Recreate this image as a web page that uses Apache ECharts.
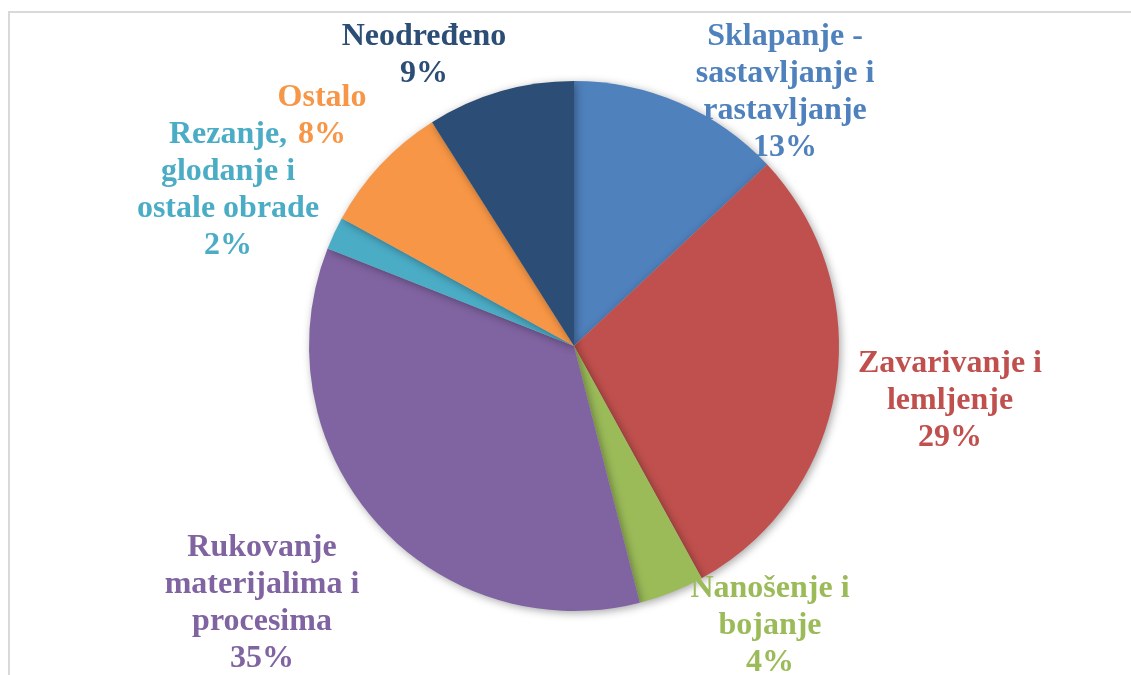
<!DOCTYPE html>
<html>
<head>
<meta charset="utf-8">
<script src="https://cdn.jsdelivr.net/npm/echarts@6/dist/echarts.min.js"></script>
<style>
  html, body { margin: 0; padding: 0; background: #fff; }
  #main { width: 1131px; height: 675px; position: relative; }
  #frame {
    position: absolute; left: 8px; top: 11px; right: -10px; bottom: -10px;
    border-left: 2px solid #d9d9d9; border-top: 2px solid #d9d9d9;
    pointer-events: none;
  }
</style>
</head>
<body>
<div id="main"></div>
<div id="frame"></div>
<script>
var names = [
  "Sklapanje -\nsastavljanje i\nrastavljanje",
  "Zavarivanje i\nlemljenje",
  "Nanošenje i\nbojanje",
  "Rukovanje\nmaterijalima i\nprocesima",
  "Rezanje,\nglodanje i\nostale obrade",
  "Ostalo",
  "Neodređeno"
];
var values = [13, 29, 4, 35, 2, 8, 9];
var colors = ["#4f81bd", "#c0504d", "#9bbb59", "#8064a2", "#4bacc6", "#f79646", "#2c4d75"];

// label block centres
var labelPos = [
  [785, 92],
  [950, 401],
  [770, 626],
  [262, 603],
  [228, 190],
  [322, 116],
  [424, 55]
];

var chartDom = document.getElementById("main");
var myChart = echarts.init(chartDom);

var data = names.map(function (n, i) {
  return { name: n, value: values[i], itemStyle: { color: colors[i] } };
});

var option = {
  animation: false,
  series: [
    {
      type: "pie",
      center: [574, 346],
      radius: 265,
      startAngle: 90,
      clockwise: true,
      data: data,
      itemStyle: {
        borderWidth: 0,
        shadowBlur: 8,
        shadowOffsetX: 2,
        shadowOffsetY: 2,
        shadowColor: "rgba(0,0,0,0.35)"
      },
      label: {
        show: true,
        position: "outside",
        formatter: "{b}\n{c}%",
        color: "inherit",
        fontFamily: "Liberation Serif",
        fontWeight: "bold",
        fontSize: 32,
        lineHeight: 37,
        align: "center"
      },
      labelLine: { show: false },
      labelLayout: function (params) {
        var p = labelPos[params.dataIndex];
        return { x: p[0], y: p[1], align: "center", verticalAlign: "middle" };
      }
    }
  ]
};
myChart.setOption(option);
</script>
</body>
</html>
